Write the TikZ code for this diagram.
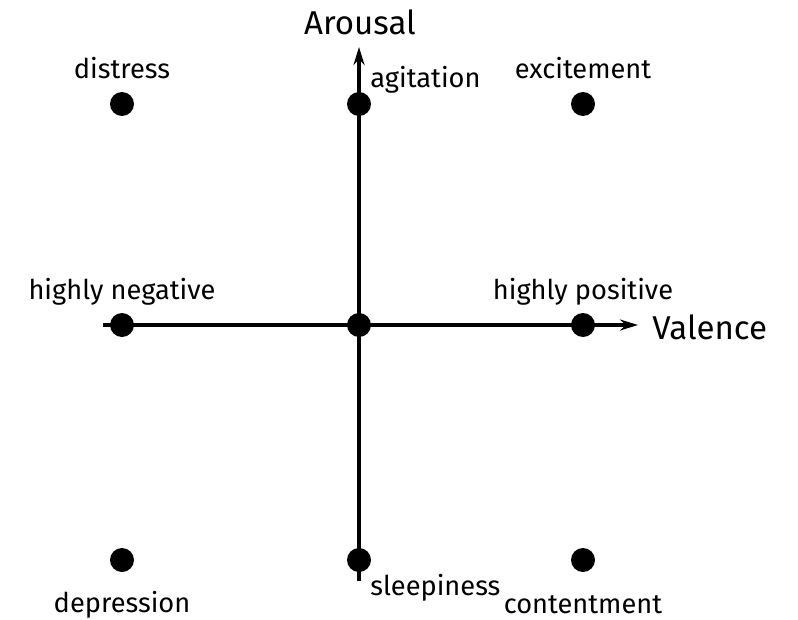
\documentclass[tikz,border=0pt]{standalone}
\usepackage{fontspec}
\setmainfont{Fira Sans}
\usepackage{tikz}
\usetikzlibrary{arrows.meta, positioning}

\begin{document}
\begin{tikzpicture}[
    x=0.02cm, y=-0.02cm,
    dot/.style={circle, fill=black, inner sep=0pt, minimum size=0.48cm},
    lbl/.style={font=\fontsize{15.5}{17}\selectfont, inner sep=0pt},
    axislbl/.style={font=\fontsize{18.8}{20}\selectfont, inner sep=0pt},
    axis/.style={-{Stealth[length=0.36cm, width=0.22cm]}, line width=2.2pt}
]
    \useasboundingbox (0,0) rectangle (798,619);

    % axis ends
    \coordinate (xstart) at (103,325);
    \coordinate (xend) at (638,325);
    \coordinate (ystart) at (359,581);
    \coordinate (yend) at (359,47);

    \draw[axis] (xstart) -- (xend);
    \draw[axis] (ystart) -- (yend);

    % the nine states
    \node[dot] (distress) at (122,104) {};
    \node[dot] (agitation) at (359,104) {};
    \node[dot] (excitement) at (583,104) {};
    \node[dot] (negative) at (122,325) {};
    \node[dot] (neutral) at (359,325) {};
    \node[dot] (positive) at (583,325) {};
    \node[dot] (depression) at (122,560) {};
    \node[dot] (sleepiness) at (359,560) {};
    \node[dot] (contentment) at (583,560) {};

    \node[axislbl] (arousal) at (360,22) {Arousal};
    \node[axislbl, anchor=west] (valence) at (652,327) {Valence};

    \node[lbl] at (122,68) {distress};
    \node[lbl, anchor=west] at (370,80) {agitation};
    \node[lbl] at (583,68) {excitement};
    \node[lbl] at (122,292) {highly negative};
    \node[lbl] at (583,292) {highly positive};
    \node[lbl] at (122,605) {depression};
    \node[lbl, anchor=west] at (370,588) {sleepiness};
    \node[lbl] at (583,605) {contentment};
\end{tikzpicture}
\end{document}
